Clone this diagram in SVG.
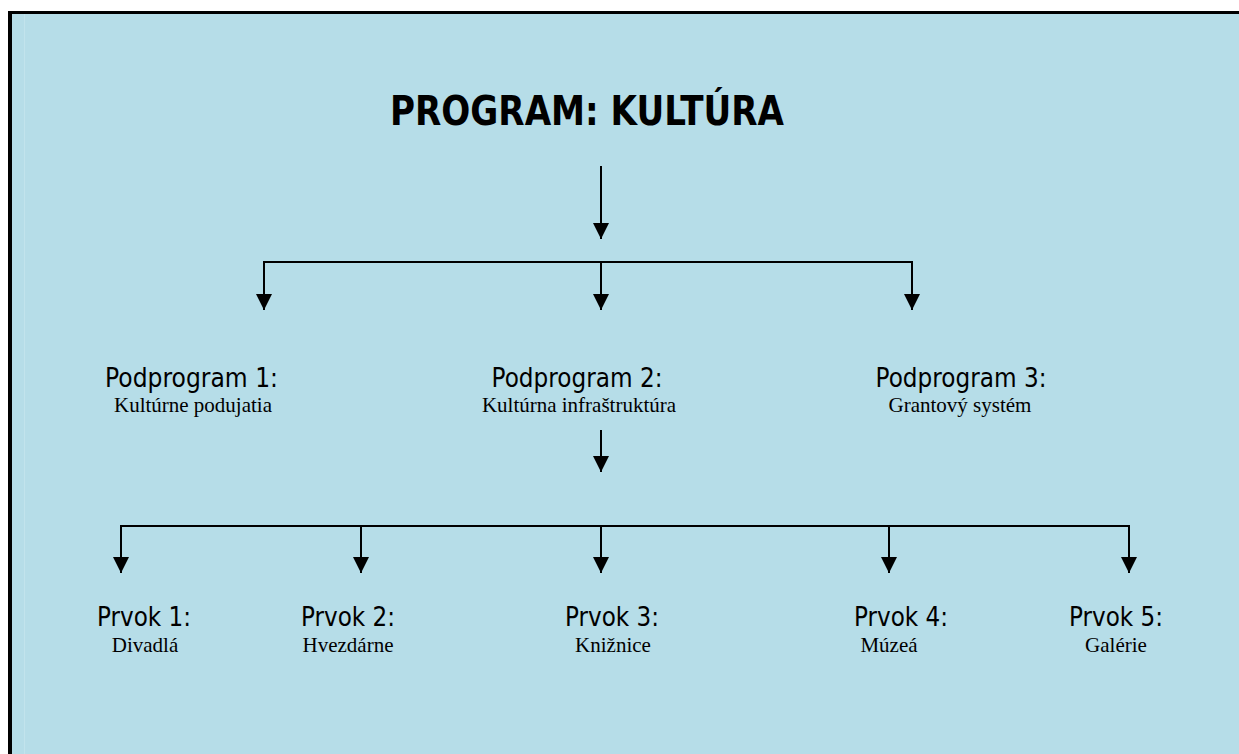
<svg xmlns="http://www.w3.org/2000/svg" width="1239" height="754" viewBox="0 0 1239 754">
<defs>
<style>
.h{font-family:"DejaVu Sans",Verdana,sans-serif;font-size:26px;fill:#000;text-anchor:middle}
.s{font-family:"Liberation Serif","Times New Roman",serif;font-size:21px;fill:#000;text-anchor:middle}
.c{stroke:#000;stroke-width:2;fill:none}
</style>
<marker id="ah" markerUnits="userSpaceOnUse" markerWidth="16" markerHeight="16" refX="16" refY="8" orient="auto">
<path d="M0,0 L16,8 L0,16 Z" fill="#000"/>
</marker>
</defs>
<rect x="0" y="0" width="1239" height="754" fill="#fff"/>
<rect x="8" y="11" width="1231" height="743" fill="#B6DDE8"/>
<line x1="24.5" y1="14" x2="24.5" y2="754" stroke="#C2E3EC" stroke-width="1"/>
<rect x="8" y="11" width="1231" height="3" fill="#000"/>
<rect x="8" y="11" width="4" height="743" fill="#000"/>

<g id="title">
<text x="587" y="125" font-family="'DejaVu Sans',Verdana,sans-serif" font-weight="bold" font-size="41" text-anchor="middle" textLength="394" lengthAdjust="spacingAndGlyphs">PROGRAM: KULTÚRA</text>
</g>

<g id="connectors">
<line class="c" x1="601" y1="166" x2="601" y2="239" marker-end="url(#ah)"/>
<line class="c" x1="263" y1="262" x2="913" y2="262"/>
<line class="c" x1="264" y1="262" x2="264" y2="310" marker-end="url(#ah)"/>
<line class="c" x1="601" y1="262" x2="601" y2="310" marker-end="url(#ah)"/>
<line class="c" x1="912" y1="262" x2="912" y2="310" marker-end="url(#ah)"/>
<line class="c" x1="601" y1="430" x2="601" y2="472" marker-end="url(#ah)"/>
<line class="c" x1="120" y1="526" x2="1130" y2="526"/>
<line class="c" x1="121" y1="526" x2="121" y2="573" marker-end="url(#ah)"/>
<line class="c" x1="361" y1="526" x2="361" y2="573" marker-end="url(#ah)"/>
<line class="c" x1="601" y1="526" x2="601" y2="573" marker-end="url(#ah)"/>
<line class="c" x1="889" y1="526" x2="889" y2="573" marker-end="url(#ah)"/>
<line class="c" x1="1129" y1="526" x2="1129" y2="573" marker-end="url(#ah)"/>
</g>

<g id="podprogram1">
<text class="h" x="191.5" y="387" textLength="173" lengthAdjust="spacingAndGlyphs">Podprogram 1:</text>
<text class="s" x="193" y="412">Kultúrne podujatia</text>
</g>
<g id="podprogram2">
<text class="h" x="577" y="387" textLength="171" lengthAdjust="spacingAndGlyphs">Podprogram 2:</text>
<text class="s" x="579" y="412">Kultúrna infraštruktúra</text>
</g>
<g id="podprogram3">
<text class="h" x="961" y="387" textLength="171" lengthAdjust="spacingAndGlyphs">Podprogram 3:</text>
<text class="s" x="960" y="412">Grantový systém</text>
</g>

<g id="prvok1">
<text class="h" x="144" y="626" textLength="94" lengthAdjust="spacingAndGlyphs">Prvok 1:</text>
<text class="s" x="145" y="652">Divadlá</text>
</g>
<g id="prvok2">
<text class="h" x="348" y="626" textLength="94" lengthAdjust="spacingAndGlyphs">Prvok 2:</text>
<text class="s" x="348" y="652">Hvezdárne</text>
</g>
<g id="prvok3">
<text class="h" x="612" y="626" textLength="94" lengthAdjust="spacingAndGlyphs">Prvok 3:</text>
<text class="s" x="613" y="652">Knižnice</text>
</g>
<g id="prvok4">
<text class="h" x="901" y="626" textLength="94" lengthAdjust="spacingAndGlyphs">Prvok 4:</text>
<text class="s" x="889" y="652">Múzeá</text>
</g>
<g id="prvok5">
<text class="h" x="1116" y="626" textLength="94" lengthAdjust="spacingAndGlyphs">Prvok 5:</text>
<text class="s" x="1116" y="652">Galérie</text>
</g>
</svg>
